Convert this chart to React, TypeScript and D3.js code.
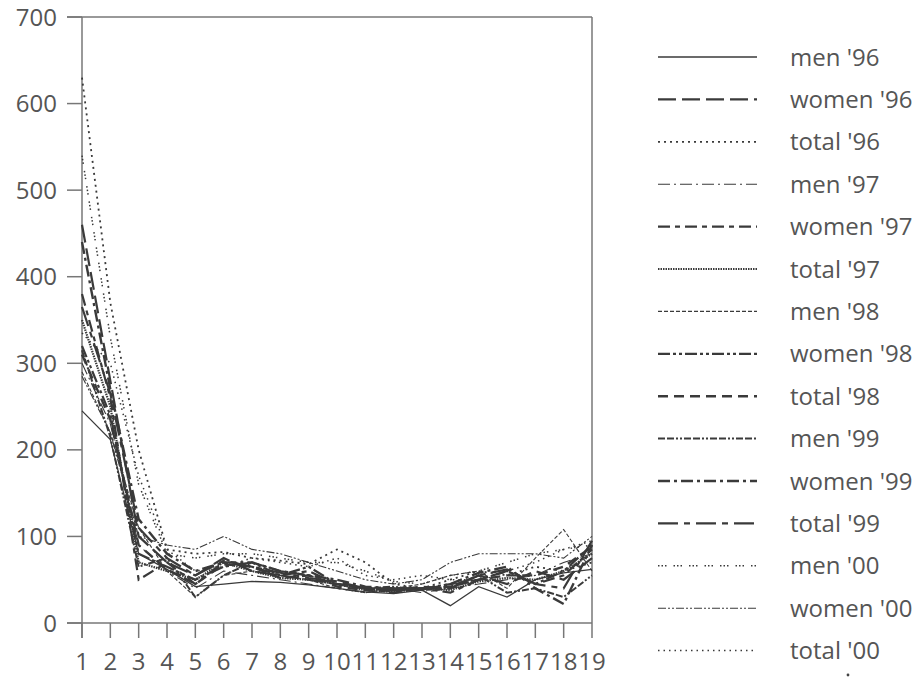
import React from 'react';
import * as d3 from 'd3';

const categories = d3.range(1, 20);
const yTicks = [0, 100, 200, 300, 400, 500, 600, 700];

const seriesNames = [
  "men '96", "women '96", "total '96",
  "men '97", "women '97", "total '97",
  "men '98", "women '98", "total '98",
  "men '99", "women '99", "total '99",
  "men '00", "women '00", "total '00",
];

const men96 = [245, 212, 80, 62, 42, 45, 48, 47, 44, 40, 36, 34, 38, 20, 42, 30, 50, 58, 62];
const women96 = [460, 280, 100, 70, 55, 75, 60, 55, 50, 45, 40, 38, 42, 40, 55, 45, 60, 50, 75];
const total96 = [630, 370, 200, 85, 80, 82, 75, 72, 68, 85, 70, 45, 40, 50, 60, 55, 65, 60, 70];
const men97 = [300, 230, 90, 60, 40, 60, 55, 50, 45, 40, 35, 40, 35, 40, 45, 50, 55, 70, 80];
const women97 = [380, 260, 50, 70, 45, 70, 65, 55, 60, 45, 40, 35, 40, 35, 50, 60, 45, 55, 85];
const total97 = [350, 250, 70, 60, 50, 70, 60, 52, 50, 45, 38, 36, 40, 38, 48, 52, 50, 60, 80];
const men98 = [290, 220, 110, 60, 30, 55, 60, 55, 50, 40, 35, 40, 45, 55, 60, 40, 75, 108, 60];
const women98 = [320, 240, 80, 65, 50, 65, 70, 55, 65, 45, 40, 38, 40, 45, 50, 60, 45, 60, 90];
const total98 = [310, 235, 90, 62, 45, 68, 65, 52, 55, 42, 38, 37, 40, 42, 50, 55, 55, 65, 88];
const men99 = [315, 215, 65, 75, 30, 55, 70, 60, 55, 45, 40, 42, 38, 40, 55, 35, 40, 30, 55];
const women99 = [440, 270, 120, 80, 60, 70, 70, 60, 55, 50, 42, 40, 38, 45, 58, 65, 40, 22, 90];
const total99 = [365, 265, 110, 75, 55, 72, 65, 58, 52, 48, 40, 40, 40, 42, 55, 62, 45, 40, 95];
const men00 = [540, 330, 160, 80, 75, 80, 80, 75, 70, 70, 60, 48, 45, 55, 60, 70, 80, 85, 90];
const women00 = [285, 220, 100, 90, 85, 100, 85, 80, 70, 60, 50, 45, 50, 70, 80, 80, 80, 75, 100];
const total00 = [335, 300, 170, 85, 60, 65, 75, 70, 65, 75, 55, 50, 55, 50, 50, 60, 70, 85, 95];

const seriesValues = [
  men96, women96, total96,
  men97, women97, total97,
  men98, women98, total98,
  men99, women99, total99,
  men00, women00, total00,
];

// dash pattern and width per series, same order as the legend
const styles = [
  { dash: 'none', w: 1.3 },
  { dash: '18,6', w: 2.2 },
  { dash: '2,4', w: 1.8 },
  { dash: '12,4,2,4', w: 1.1 },
  { dash: '12,5,5,5', w: 2.2 },
  { dash: '1.5,1', w: 2.2 },
  { dash: '4,2', w: 1.1 },
  { dash: '12,3,3,3,3,3', w: 2.2 },
  { dash: '10,6', w: 2.4 },
  { dash: '7,2,7,2,2,2,2,2', w: 2 },
  { dash: '12,4,3,4', w: 2.4 },
  { dash: '20,6,6,6', w: 2.2 },
  { dash: '1.5,2,1.5,2,1.5,7', w: 1.5 },
  { dash: '8,2,2,2,2,2', w: 1.1 },
  { dash: '1.5,4', w: 1.5 },
];

const font = "'Open Sans', sans-serif";
const ink = '#555';

export default function App() {
  const left = 82, right = 592, top = 17, bottom = 623;
  const x = d3.scaleLinear().domain([1, 19]).range([left, right]);
  const y = d3.scaleLinear().domain([0, 700]).range([bottom, top]);
  const line = d3.line<number>().x((d, i) => x(categories[i])).y(d => y(d));

  return (
    <svg width={918} height={679} style={{ position: 'absolute', left: 0, top: 0, background: '#fff' }}>
      <g stroke="#777" strokeWidth={1.5}>
        <line x1={left - 15} x2={right} y1={top} y2={top} />
        <line x1={right} x2={right} y1={top} y2={bottom} />
        <line x1={left} x2={left} y1={top} y2={bottom + 15} />
        <line x1={left - 15} x2={right} y1={bottom} y2={bottom} />
        {yTicks.map(t => (
          <line key={t} x1={left - 15} x2={left} y1={y(t)} y2={y(t)} />
        ))}
        {categories.map(c => (
          <line key={c} x1={x(c)} x2={x(c)} y1={bottom} y2={bottom + 15} />
        ))}
      </g>
      <g fontFamily={font} fontSize={24} fill={ink}>
        {yTicks.map(t => (
          <text key={t} x={57} y={y(t)} dy="0.36em" textAnchor="end">{t}</text>
        ))}
        {categories.map(c => (
          <text key={c} x={x(c)} y={670} textAnchor="middle">{c}</text>
        ))}
      </g>
      <g fill="none" stroke="#3a3a3a">
        {seriesValues.map((vals, i) => (
          <path key={i} d={line(vals) || ''} strokeDasharray={styles[i].dash}
            strokeWidth={styles[i].w} />
        ))}
      </g>
      <g>
        {seriesNames.map((name, i) => {
          const ly = 57 + i * 42.4;
          return (
            <g key={name}>
              <line x1={658} x2={757} y1={ly} y2={ly} stroke="#3a3a3a" fill="none"
                strokeDasharray={styles[i].dash} strokeWidth={styles[i].w} />
              <text x={790} y={ly} dy="0.36em" fontFamily={font} fontSize={24} fill={ink}>{name}</text>
            </g>
          );
        })}
        <circle cx={848} cy={675} r={1.4} fill="#444" />
      </g>
    </svg>
  );
}
